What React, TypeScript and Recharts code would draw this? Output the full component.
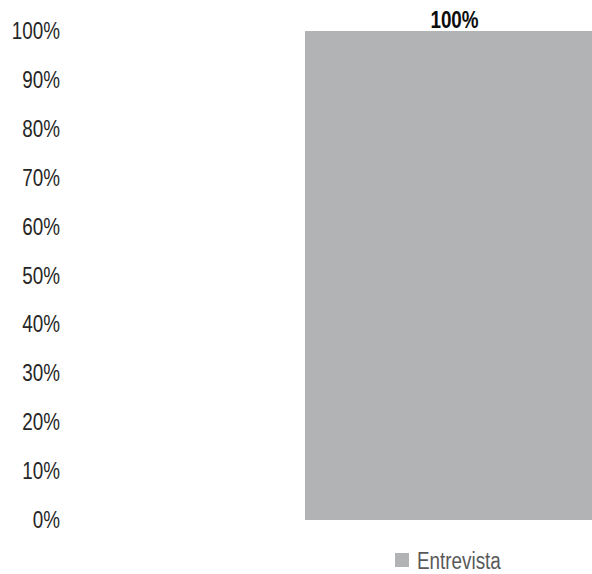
import { BarChart, Bar, XAxis, YAxis, Legend, LabelList } from 'recharts';

const categories = ['Entrevista'];
const entrevistaValues = [1];
const yTicks = [0, 0.1, 0.2, 0.3, 0.4, 0.5, 0.6, 0.7, 0.8, 0.9, 1];

const data = categories.map((name, i) => ({ name, entrevista: entrevistaValues[i] }));

const pct = (v: number) => `${Math.round(v * 100)}%`;

// no narrow font installed, so squeeze Liberation Sans horizontally
const FONT = '"Liberation Sans", Arial, sans-serif';
const SQUEEZE = 0.82;
const BAR_COLOR = '#b1b3b4';

const NarrowTick = ({ x, y, payload }: any) => (
  <text
    x={0}
    y={0}
    dy={8}
    textAnchor="end"
    fill="#262626"
    fontSize={23}
    fontFamily={FONT}
    transform={`translate(${x},${y}) scale(${SQUEEZE},1)`}
  >
    {pct(payload.value)}
  </text>
);

const TopLabel = ({ x, y, width, value }: any) => {
  const cx = Number(x) + Number(width) / 2;
  return (
    <text
      x={0}
      y={0}
      dy={-3}
      textAnchor="middle"
      fill="#0d0d0d"
      fontSize={23}
      fontWeight="bold"
      fontFamily={FONT}
      transform={`translate(${cx},${y}) scale(${SQUEEZE},1)`}
    >
      {pct(Number(value))}
    </text>
  );
};

const LegendBox = ({ payload }: any) => (
  <svg width={841} height={26} style={{ display: 'block' }}>
    {(payload || []).map((item: any) => (
      <g key={item.value}>
        <rect x={395} y={5} width={14} height={14} fill={item.color} />
        <text
          x={0}
          y={0}
          fill="#595959"
          fontSize={23}
          fontFamily={FONT}
          transform={`translate(417,21) scale(${SQUEEZE},1)`}
        >
          {item.value}
        </text>
      </g>
    ))}
  </svg>
);

export default function App() {
  return (
    <div
      style={{
        position: 'fixed',
        top: 0,
        left: 0,
        width: 592,
        height: 574,
        overflow: 'hidden',
        background: '#fff',
        fontFamily: FONT,
      }}
    >
      <BarChart
        width={841}
        height={574}
        data={data}
        margin={{ top: 31, right: 0, left: 0, bottom: 0 }}
      >
        <XAxis dataKey="name" hide />
        <YAxis
          width={68}
          domain={[0, 1]}
          ticks={yTicks}
          axisLine={false}
          tickLine={false}
          tick={<NarrowTick />}
        />
        <Legend
          verticalAlign="bottom"
          content={<LegendBox />}
          wrapperStyle={{ paddingTop: 28, left: 0 }}
        />
        <Bar
          dataKey="entrevista"
          name="Entrevista"
          fill={BAR_COLOR}
          barSize={299}
          isAnimationActive={false}
        >
          <LabelList dataKey="entrevista" content={<TopLabel />} />
        </Bar>
      </BarChart>
    </div>
  );
}
